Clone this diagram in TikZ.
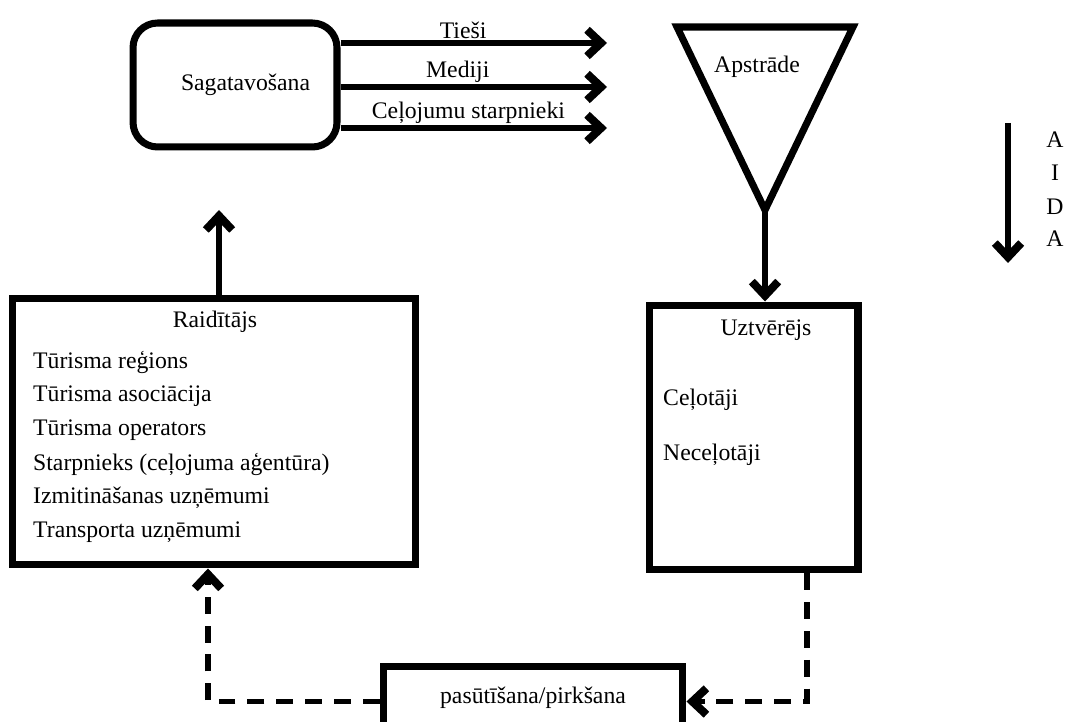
\documentclass[tikz,border=0pt]{standalone}
\usepackage{fontspec}
\setmainfont{Liberation Serif}
\usetikzlibrary{arrows.meta}

\begin{document}
\begin{tikzpicture}[x=0.02cm,y=-0.02cm,
	font=\fontsize{13.5}{16}\selectfont,
	box/.style={draw,line width=4pt,inner sep=0pt},
	flow/.style={line width=3.4pt,-{Straight Barb[length=8pt,width=15pt,line width=4.6pt]}},
	back/.style={flow,dash pattern=on 9.6pt off 6.8pt},
	chan/.style={above=0pt,inner sep=1pt}]
	
	\useasboundingbox (0,0) rectangle (1067,722); % same page as the figure
	
	% sagatavošana and its three channels
	\node[box,rounded corners=14pt,minimum width=4.08cm,minimum height=2.48cm] (sag) at (235,85) {\hspace{12pt}Sagatavošana};
	
	\coordinate (kT) at (607,43);
	\coordinate (kM) at (607,87);
	\coordinate (kC) at (607,128);
	\draw[flow] (sag.east |- kT) -- node[chan,pos=0.46] (lT) {Tieši} (kT);
	\draw[flow] (sag.east |- kM) -- node[chan,pos=0.44] (lM) {Mediji} (kM);
	\draw[flow] (sag.east |- kC) -- node[chan,pos=0.48] (lC) {Ceļojumu starpnieki} (kC);
	
	% the funnel
	\draw[line width=4pt] (677,27) -- (853,27) -- (765,210) coordinate (apx) -- cycle;
	\node (aps) at (757,67) {Apstrāde};
	
	% receiver
	\node[box,minimum width=4.18cm,minimum height=5.3cm] (uzt) at (753.5,437.5) {};
	\node (uztT) at (766,330) {Uztvērējs};
	\node[anchor=west] (cel) at (657,400) {Ceļotāji};
	\node[anchor=west] (necel) at (657,455) {Neceļotāji};
	\draw[flow] (apx) -- (uzt.north -| apx);
	
	% sender
	\node[box,minimum width=8.08cm,minimum height=5.34cm] (raid) at (214,431.5) {};
	\node (raidT) at (215,322) {Raidītājs};
	\foreach \t [count=\i] in {Tūrisma reģions,Tūrisma asociācija,Tūrisma operators,{Starpnieks (ceļojuma aģentūra)},Izmitināšanas uzņēmumi,Transporta uzņēmumi}{%
		\node[anchor=west] (r\i) at (27,{328+34*\i}) {\t};
	}
	\coordinate (upT) at (219,210);
	\draw[flow] (raid.north -| upT) -- (upT);
	
	% AIDA
	\coordinate (aidaA) at (1008,123);
	\coordinate (aidaB) at (1008,263);
	\draw[flow] (aidaA) -- (aidaB);
	\foreach \ch/\yy [count=\i] in {A/140,I/173,D/207,A/239}{%
		\node (aida\i) at (1055,\yy) {\ch};
	}
	
	% feedback through ordering
	\node[box,minimum width=6cm,minimum height=1.4cm,anchor=north] (pas) at (533,663) {\raisebox{7pt}{pasūtīšana/pirkšana}};
	\coordinate (retR) at (807,0);
	\coordinate (retL) at (208,0);
	\draw[back] (uzt.south -| retR) |- (pas.east);
	\draw[back] (pas.west) -| (raid.south -| retL);
	
\end{tikzpicture}
\end{document}
